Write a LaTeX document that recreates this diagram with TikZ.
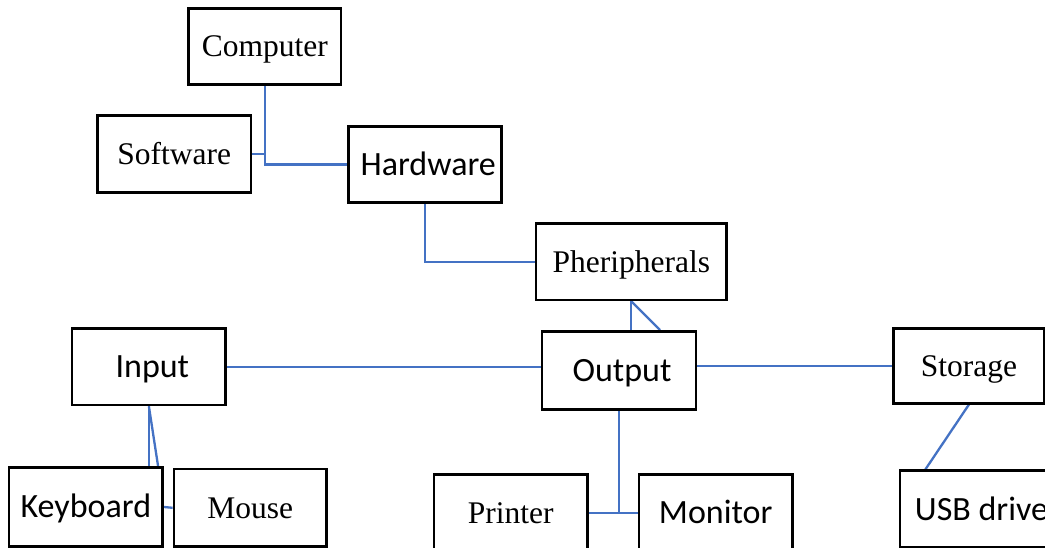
\documentclass[tikz,border=0pt]{standalone}
\usepackage{fontspec}
\setmainfont{Liberation Serif}
\newfontfamily\calibrifont{Carlito}
\usetikzlibrary{backgrounds}
\definecolor{linkblue}{HTML}{4472C4}
\tikzset{
  box/.style={draw=black, line width=2.6pt, inner sep=0pt, text depth=0pt},
  serifbox/.style={box, font=\fontsize{31.5}{36}\selectfont, text height=20.8pt},
  sansbox/.style={box, font=\calibrifont\fontsize{34}{40}\selectfont, text height=21.9pt},
  link/.style={draw=linkblue, line width=2.3pt},
}
\begin{document}
\begin{tikzpicture}[x=1pt, y=-1pt]
\useasboundingbox (0,0) rectangle (1045,548);
\clip (0,0) rectangle (1045,548);

% boxes
\node[serifbox, minimum width=152.3pt, minimum height=76pt]   (computer) at (264.9,46.3)  {Computer};
\node[serifbox, minimum width=153.7pt, minimum height=77pt]   (software) at (174.2,154.2) {Software};
\node[sansbox,  minimum width=153pt,   minimum height=75.6pt] (hardware) at (425.2,164.5) {\kern6pt Hardware};
\node[serifbox, minimum width=190.7pt, minimum height=76.7pt] (periph)   at (631.3,261.7) {Pheripherals};
\node[sansbox,  minimum width=154pt,   minimum height=78.4pt] (output)   at (619,370.5)   {\kern6pt Output};
\node[sansbox,  minimum width=153.7pt, minimum height=76.7pt] (input)    at (148.9,366.7) {\kern7pt Input};
\node[serifbox, minimum width=151.2pt, minimum height=75pt]   (storage)  at (968.9,365.8) {Storage};
\node[sansbox,  minimum width=153.7pt, minimum height=79.4pt] (keyboard) at (85.9,507)    {Keyboard};
\node[serifbox, minimum width=152.7pt, minimum height=77.7pt] (mouse)    at (250.3,507.8) {Mouse};
\node[serifbox, minimum width=153.7pt, minimum height=77.4pt] (printer)  at (510.8,513)   {Printer};
\node[sansbox,  minimum width=153.3pt, minimum height=77.4pt] (monitor)  at (715.7,513)   {Monitor};
\node[sansbox,  minimum width=163pt,   minimum height=77pt]   (usb)      at (981.5,509.2) {USB drive};

% connectors
\begin{scope}[on background layer]
\draw[link] (computer.south) |- (hardware.west);
\draw[link] (software.east) -- (computer.south |- software.east);
\draw[link] (hardware.south) |- (periph.west);
\draw[link] (periph.south) -- (periph.south |- output.north);
\draw[link] (periph.south) -- ([xshift=41pt]output.north);
\draw[link] (input.east) -- (input.east -| output.west);
\draw[link] (storage.west -| output.east) -- (storage.west);
\draw[link] (output.south) -- (output.south |- printer.east);
\draw[link] (printer.east) -- (monitor.west);
\draw[link] (input.south) -- (input.south |- keyboard.north);
\draw[link] (input.south) -- ([xshift=-6pt]keyboard.north east);
\draw[link] (keyboard.east) -- (mouse.west);
\draw[link] (storage.south) -- ([xshift=26.7pt]usb.north west);
\end{scope}
\end{tikzpicture}
\end{document}
